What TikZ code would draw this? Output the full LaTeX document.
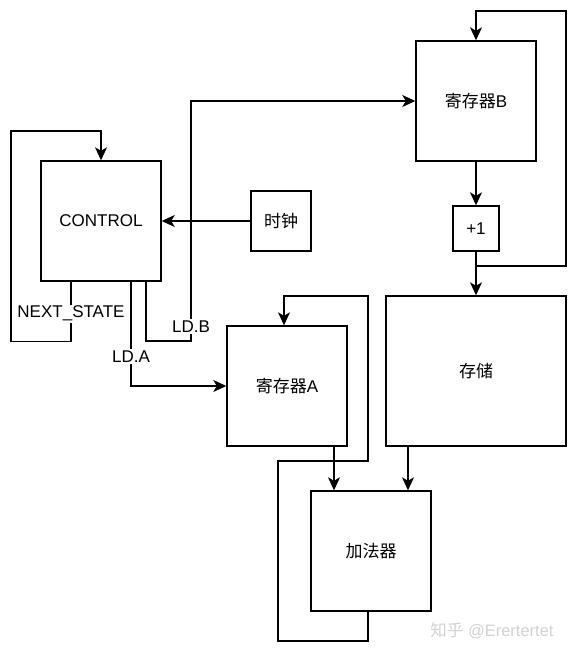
\documentclass[tikz,border=0pt]{standalone}
\usepackage{fontspec}
\setmainfont{Liberation Sans}
\newfontfamily\cjk{Noto Sans CJK SC}
\usetikzlibrary{arrows.meta}

\begin{document}
\begin{tikzpicture}[x=1pt, y=-1pt, black, line width=1.4pt,
	>={Stealth[length=13pt,width=12pt,inset=3.5pt]},
	blk/.style={draw, minimum width=120pt, minimum height=120pt, inner sep=0pt,
		font=\fontsize{17}{20}\selectfont},
	lbl/.style={fill=white, inner sep=1.5pt, font=\fontsize{17}{20}\selectfont},
]
\useasboundingbox (0,0) rectangle (570,654);

% Bausteine
\node[blk] (ctrl) at (101,221) {CONTROL};
\node[blk, minimum width=60pt, minimum height=60pt] (clk) at (281,221) {{\cjk 时钟}};
\node[blk] (regB) at (476,101) {{\cjk 寄存器}B};
\node[blk, minimum width=46pt, minimum height=45pt] (inc) at (476,228.5) {+1};
\node[blk, minimum width=180pt, minimum height=150pt] (mem) at (476,371) {{\cjk 存储}};
\node[blk] (regA) at (287,386) {{\cjk 寄存器}A};
\node[blk] (add) at (371,551) {{\cjk 加法器}};

% Verbindungen
\draw[->] (clk) -- (ctrl);
\draw[->] (regB) -- (inc);
\draw[->] (inc) -- (mem);
\draw[->] (inc.south) |- (566,266) |- (476,11) -- (regB.north);

\draw[->] ([xshift=-30pt]ctrl.south) -- node[lbl, yshift=-2pt]{NEXT\_STATE} ++(0,60) -| (11,131) -| (ctrl.north);
\draw[->] ([xshift=30pt]ctrl.south) |- node[lbl, pos=0.36]{LD.A} (regA.west);
\draw[->] ([xshift=45pt]ctrl.south) |- (191,341) |- node[lbl, pos=0.03]{LD.B} (regB.west);

\draw[->] ([xshift=47pt]regA.south) -- ([xshift=-37pt]add.north);
\draw[->] ([xshift=-68pt]mem.south) -- ([xshift=37pt]add.north);
\draw[->] ([xshift=-3pt]add.south) |- (278,641) |- (368,461) |- (284,296) -- ([xshift=-3pt]regA.north);

\node[gray!35, font=\fontsize{16.5}{19}\selectfont] (mark) at (492,631) {{\cjk 知乎} @Erertertet};

\end{tikzpicture}
\end{document}
